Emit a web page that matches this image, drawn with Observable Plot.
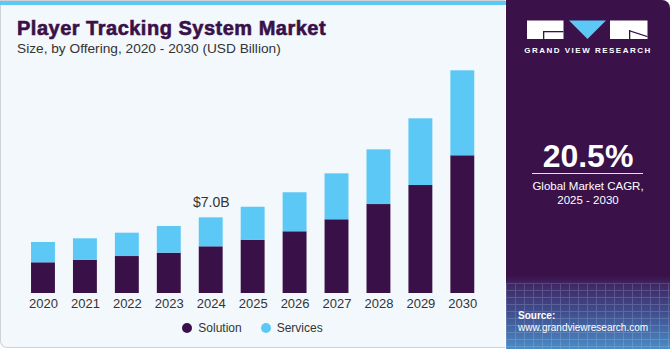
<!DOCTYPE html>
<html>
<head>
<meta charset="utf-8">
<script src="https://cdn.jsdelivr.net/npm/d3@7"></script>
<script src="https://cdn.jsdelivr.net/npm/@observablehq/plot@0.6"></script>
<style>
  html, body { margin: 0; padding: 0; background: #ffffff; }
  body { width: 670px; height: 350px; overflow: hidden; font-family: "Liberation Sans", Arial, sans-serif; }
  #root { position: relative; width: 670px; height: 350px; overflow: hidden; }
  .abs { position: absolute; white-space: nowrap; }
  #left { position: absolute; left: 0; top: 0; width: 505px; height: 348px; background: #f3f8fc;
          border-left: 1px solid #cfd3d6; border-bottom: 1px solid #cfd3d6; border-top: 1px solid #cfd3d6;
          border-bottom-left-radius: 7px; box-sizing: border-box; }
  #stripe { position: absolute; left: 0; top: 1px; width: 506px; height: 4px; background: #5bc8f5; }
  #right { position: absolute; left: 506px; top: 0; width: 164px; height: 349px; border-top-right-radius: 8px;
           background: linear-gradient(to bottom, #3a1249 0%, #3a1249 79%, #3f2a68 82%, #41508f 90%, #4a8cc6 100%); overflow: hidden; }
  #grid { position: absolute; left: 0; top: 283px; width: 164px; height: 66px; opacity: 0.18;
          background-image: repeating-linear-gradient(to right, #cfe6ff 0 1px, transparent 1px 9px),
                            repeating-linear-gradient(to bottom, #cfe6ff 0 1px, transparent 1px 7px); }
  .title { color: #3a1049; font-weight: 700; font-size: 20px; line-height: 20px; letter-spacing: 0.5px; -webkit-text-stroke: 0.6px #3a1049; }
  .sub { color: #333; font-size: 13.7px; line-height: 13.7px; }
  .leg { color: #333; font-size: 12px; line-height: 12px; }
  .dot { position: absolute; width: 10px; height: 10px; border-radius: 50%; }
  .w { color: #fff; }
  #plot { position: absolute; left: 0; top: 60px; }
</style>
</head>
<body>
<div id="root">
  <div id="left"></div>
  <div id="stripe"></div>
  <div class="abs title" style="left:17px; top:18px;">Player Tracking System Market</div>
  <div class="abs sub" style="left:17px; top:41.7px;">Size, by Offering, 2020 - 2030 (USD Billion)</div>
  <div id="plot"></div>
  <div id="legend"></div>
  <div id="right">
    <div id="grid"></div>
    <svg class="abs" style="left:0; top:0;" width="164" height="60">
      <rect x="21" y="20.5" width="36.5" height="18.5" fill="#ffffff"/>
      <rect x="37" y="31" width="20.5" height="1.3" fill="#3a1249"/>
      <rect x="37" y="31" width="1.3" height="8" fill="#3a1249"/>
      <polygon points="63,20.5 100,20.5 81.5,39" fill="#5bc8f5"/>
      <rect x="104" y="20.5" width="37.5" height="18.5" fill="#ffffff"/>
      <polygon points="123,30 141.5,36 141.5,37.2 123,31.3" fill="#3a1249"/>
      <rect x="123" y="30" width="1.3" height="9" fill="#3a1249"/>
    </svg>
    <div class="abs w" style="left:0; width:164px; text-align:center; top:46.5px; font-size:8px; line-height:8px; font-weight:700; letter-spacing:1.5px;">GRAND VIEW RESEARCH</div>
    <div class="abs w" style="left:0; width:164px; text-align:center; top:139.5px; font-size:32px; line-height:32px; font-weight:700;">20.5%</div>
    <div class="abs" style="left:26px; top:172.5px; width:111px; height:1px; background:#e8e0ee;"></div>
    <div class="abs w" style="left:0; width:164px; text-align:center; top:180.8px; font-size:11.5px; line-height:11.5px;">Global Market CAGR,</div>
    <div class="abs w" style="left:0; width:164px; text-align:center; top:194.6px; font-size:11.5px; line-height:11.5px;">2025 - 2030</div>
    <div class="abs w" style="left:12px; top:310.5px; font-size:10px; line-height:10px; font-weight:700;">Source:</div>
    <div class="abs w" style="left:12px; top:322.5px; font-size:10px; line-height:10px;">www.grandviewresearch.com</div>
  </div>
</div>
<script>
// ---- data ----
const years = ["2020","2021","2022","2023","2024","2025","2026","2027","2028","2029","2030"];
const solution = [2.84, 3.08, 3.42, 3.73, 4.32, 4.93, 5.71, 6.82, 8.23, 9.99, 12.74];
const services = [1.88, 1.98, 2.16, 2.47, 2.68, 3.05, 3.61, 4.25, 5.06, 6.17, 7.86];
const segments = ["Solution", "Services"];
const segmentColors = ["#3a1049", "#5bc8f5"];
const labelYear = "2024";
const labelText = "$7.0B";

// ---- build table ----
const rows = [];
years.forEach((yr, i) => {
  rows.push({year: yr, segment: "Solution", value: solution[i]});
  rows.push({year: yr, segment: "Services", value: services[i]});
});
const li = years.indexOf(labelYear);
const labelRows = [{year: labelYear, total: solution[li] + services[li], text: labelText}];

const chart = Plot.plot({
  width: 505,
  height: 250,
  marginLeft: 13,
  marginRight: 12.7,
  marginTop: 6,
  marginBottom: 17,
  style: {background: "transparent", color: "#333", fontFamily: "'Liberation Sans', Arial, sans-serif", fontSize: "13px"},
  x: {type: "band", domain: years, padding: 0.43, round: false, tickSize: 0, tickPadding: 5, label: null},
  y: {domain: [0, 21], axis: null},
  color: {domain: segments, range: segmentColors},
  marks: [
    Plot.barY(rows, {x: "year", y: "value", fill: "segment", order: segments}),
    Plot.text(labelRows, {x: "year", y: "total", text: "text", dy: -11, lineAnchor: "bottom", fontSize: 14, fill: "#333"})
  ]
});
document.getElementById("plot").appendChild(chart);

// legend
const legend = document.getElementById("legend");
const legPos = [{dot: 182.3, text: 198.3}, {dot: 260.7, text: 276.7}];
segments.forEach((s, i) => {
  const d = document.createElement("div");
  d.className = "dot";
  d.style.left = legPos[i].dot + "px";
  d.style.top = "323.3px";
  d.style.background = segmentColors[i];
  legend.appendChild(d);
  const t = document.createElement("div");
  t.className = "abs leg";
  t.style.left = legPos[i].text + "px";
  t.style.top = "321.8px";
  t.textContent = s;
  legend.appendChild(t);
});
</script>
</body>
</html>
